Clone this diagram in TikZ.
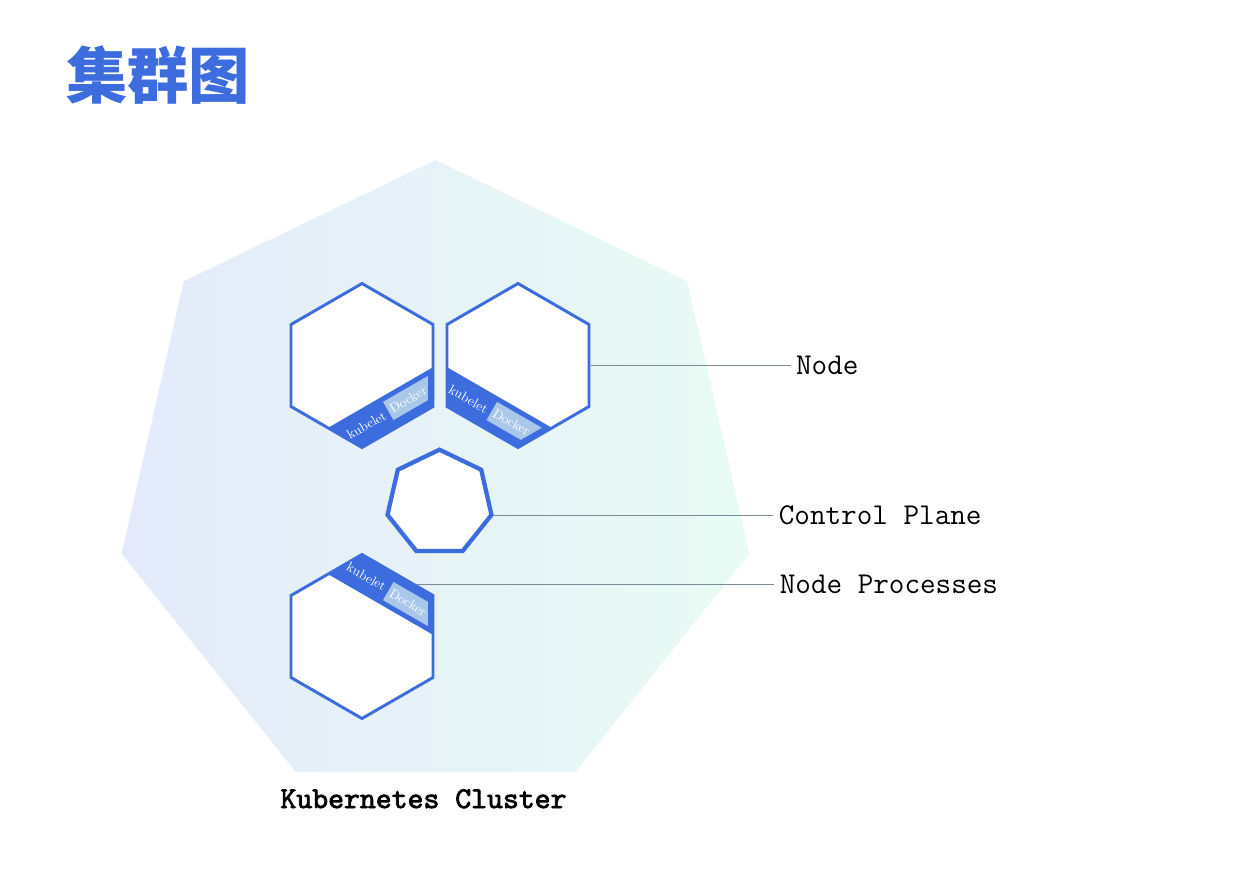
\documentclass[tikz,border=0pt]{standalone}
\usepackage{fontspec}
\newfontfamily\cjkfont{Noto Sans CJK SC}
\newfontfamily\clusterfont{lmmono10-regular.otf}[FakeBold = 2.5]
\usetikzlibrary{shapes.geometric, positioning}
\definecolor{K8sBlue}{HTML}{3D6CDF}
\definecolor{DockerBlue}{HTML}{A9C7E8}
\definecolor{ClusterLeft}{HTML}{E4EAFA}
\definecolor{ClusterRight}{HTML}{E8FBF4}
\definecolor{LeaderGray}{HTML}{7D8A99}
\colorlet{titlecolor}{K8sBlue}

\tikzset{
  hexnode/.style = {draw = K8sBlue, fill = white, line width = 2.2pt, regular polygon, regular polygon sides = 6, regular polygon rotate = 30, minimum size = 123pt, inner sep = 0pt},
  proctext/.style = {text = white, inner sep = 0pt, font = \fontsize{10}{10}\selectfont},
  lbl/.style = {text = black, inner sep = 4pt, font = \ttfamily\fontsize{22.7}{26}\selectfont},
  leader/.style = {draw = LeaderGray, line width = 0.8pt}
}

% kubelet / Docker strip: #1 node, #2 rotation, #3 side (1 bottom, -1 top)
\newcommand{\procstrip}[3]{
  \begin{scope}[shift = {(#1.center)}, rotate = #2, yscale = #3]
    \fill[K8sBlue] (-41, -71) -- (41, -71) -- (60.6, -37) -- (-60.6, -37) -- cycle;
    \fill[DockerBlue] (0, -42) -- (51.7, -42) -- (39.6, -63) -- (0, -63) -- cycle;
    \node[proctext, rotate = #2] at (-26, -54) (#1-kubelet) {kubelet};
    \node[proctext, rotate = #2] at (23, -52.5) (#1-docker) {Docker};
  \end{scope}
}

\begin{document}
\begin{tikzpicture}[x = 0.75pt, y = 0.75pt]
      \useasboundingbox (0, 0) rectangle (1252, -884);

      \node[anchor = base west, inner sep = 0pt, text = titlecolor, font = \cjkfont\bfseries\fontsize{46}{46}\selectfont] at (66, -99) (title) {集群图};

      \node[regular polygon, regular polygon sides = 7, minimum size = 483pt, inner sep = 0pt, left color = ClusterLeft, right color = ClusterRight] at (435.5, -482) (cluster) {};

      \node[hexnode] at (362, -365.5) (n1) {};
      \node[hexnode] at (518, -365.5) (n2) {};
      \node[hexnode] at (362, -636.5) (n3) {};
      \procstrip{n1}{30}{1}
      \procstrip{n2}{-30}{1}
      \procstrip{n3}{-30}{-1}

      \node[draw = K8sBlue, fill = white, line width = 3.2pt, regular polygon, regular polygon sides = 7, minimum size = 80pt, inner sep = 0pt] at (439.5, -503) (cp) {};

      \node[lbl, anchor = west] at ([xshift = 150pt]n2.east) (node-lbl) {Node};
      \node[lbl, anchor = west] at ([xshift = 209.6pt]cp.corner 6) (cp-lbl) {Control Plane};
      \node[lbl, anchor = west] at ([xshift = 268.5pt]n3.44) (proc-lbl) {Node Processes};
      \draw[leader] (n2.east) -- (node-lbl.west);
      \draw[leader] (cp.corner 6) -- (cp-lbl.west);
      \draw[leader] (n3.44) -- (proc-lbl.west);

      \node[lbl, anchor = base, font = \clusterfont\fontsize{22.7}{26}\selectfont] at (423.5, -808) (cluster-lbl) {Kubernetes Cluster};
    \end{tikzpicture}
\end{document}
